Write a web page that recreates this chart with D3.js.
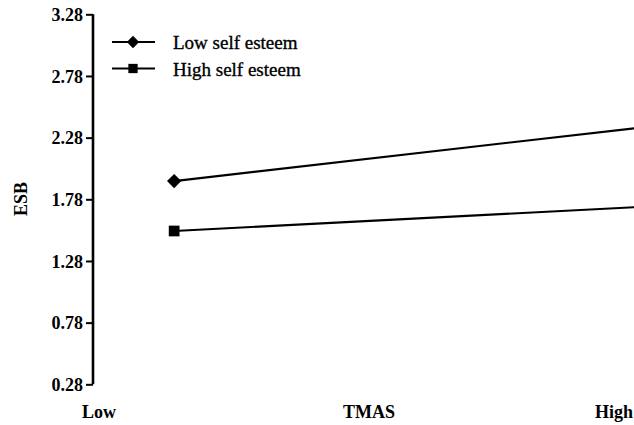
<!DOCTYPE html>
<html>
<head>
<meta charset="utf-8">
<script src="https://cdn.jsdelivr.net/npm/d3@7"></script>
<style>
  body { margin: 0; background: #fff; }
</style>
</head>
<body>
<div id="chart"></div>
<script>
// data
var groups = ["Low self esteem", "High self esteem"];
var levels = [0.147, 1.0];          // TMAS position of the two points (low / high)
var lowEsteem = [1.928, 2.366];
var highEsteem = [1.523, 1.72];
var yTicks = [0.28, 0.78, 1.28, 1.78, 2.28, 2.78, 3.28];
var xLabels = ["Low", "TMAS", "High"];

var font = "'Liberation Serif', 'Times New Roman', Times, 'DejaVu Serif', serif";
var width = 634, height = 425;
var svg = d3.select("#chart").append("svg")
	.attr("width", width)
	.attr("height", height)
	.style("font-family", font);

var x = d3.scaleLinear().domain([0, 1]).range([93, 645]);
var y = d3.scaleLinear().domain([0.28, 3.28]).range([384.3, 14.3]);

// y axis
var yAxis = svg.append("g")
	.attr("transform", "translate(93,0)")
	.call(d3.axisLeft(y).tickValues(yTicks).tickFormat(d3.format(".2f")).tickSize(7).tickPadding(3));
yAxis.attr("font-family", null);
yAxis.select(".domain").attr("stroke-width", 2.6).attr("d", "M0," + y(0.28) + "V" + y(3.28));
yAxis.selectAll(".tick line").attr("stroke-width", 2);
yAxis.selectAll(".tick text")
	.style("font-family", font)
	.style("font-size", "18px")
	.style("font-weight", "bold")
	.attr("dy", "0.35em");

svg.append("text")
	.attr("transform", "translate(27,199) rotate(-90)")
	.attr("text-anchor", "middle")
	.style("font-family", font)
	.style("font-size", "18px")
	.style("font-weight", "bold")
	.text("ESB");

// x labels (no axis line in the original)
function xText(px, anchor, txt){
	svg.append("text").attr("x", px).attr("y", 418)
		.attr("text-anchor", anchor)
		.style("font-family", font)
		.style("font-size", "18px")
		.style("font-weight", "bold")
		.text(txt);
}
xText(82, "start", xLabels[0]);
xText(x(0.5), "middle", xLabels[1]);
xText(633, "end", xLabels[2]);

var series = [
	{name: groups[0], values: lowEsteem, shape: d3.symbolDiamond2, size: 130},
	{name: groups[1], values: highEsteem, shape: d3.symbolSquare, size: 115}
];

var line = d3.line()
	.x(function(d, i){ return x(levels[i]); })
	.y(function(d){ return y(d); });

series.forEach(function(s){
	svg.append("path")
		.attr("d", line(s.values))
		.attr("fill", "none")
		.attr("stroke", "#000")
		.attr("stroke-width", 2.2);
	svg.selectAll(null)
		.data(s.values)
		.enter().append("path")
		.attr("transform", function(d, i){ return "translate(" + x(levels[i]) + "," + y(d) + ")"; })
		.attr("d", d3.symbol().type(s.shape).size(s.size))
		.attr("fill", "#000");
});

// legend
var legend = svg.append("g").attr("transform", "translate(112,42)");
series.forEach(function(s, i){
	var g = legend.append("g").attr("transform", "translate(0," + i * 26.5 + ")");
	g.append("line")
		.attr("x1", 0).attr("x2", 43)
		.attr("stroke", "#000").attr("stroke-width", 2.2);
	g.append("path")
		.attr("transform", "translate(21,0)")
		.attr("d", d3.symbol().type(s.shape).size(s.size * 0.75))
		.attr("fill", "#000");
	g.append("text")
		.attr("x", 61).attr("y", 7)
		.style("font-family", font)
		.style("font-size", "19px")
		.attr("stroke", "#000")
		.attr("stroke-width", 0.35)
		.text(s.name);
});
</script>
</body>
</html>
